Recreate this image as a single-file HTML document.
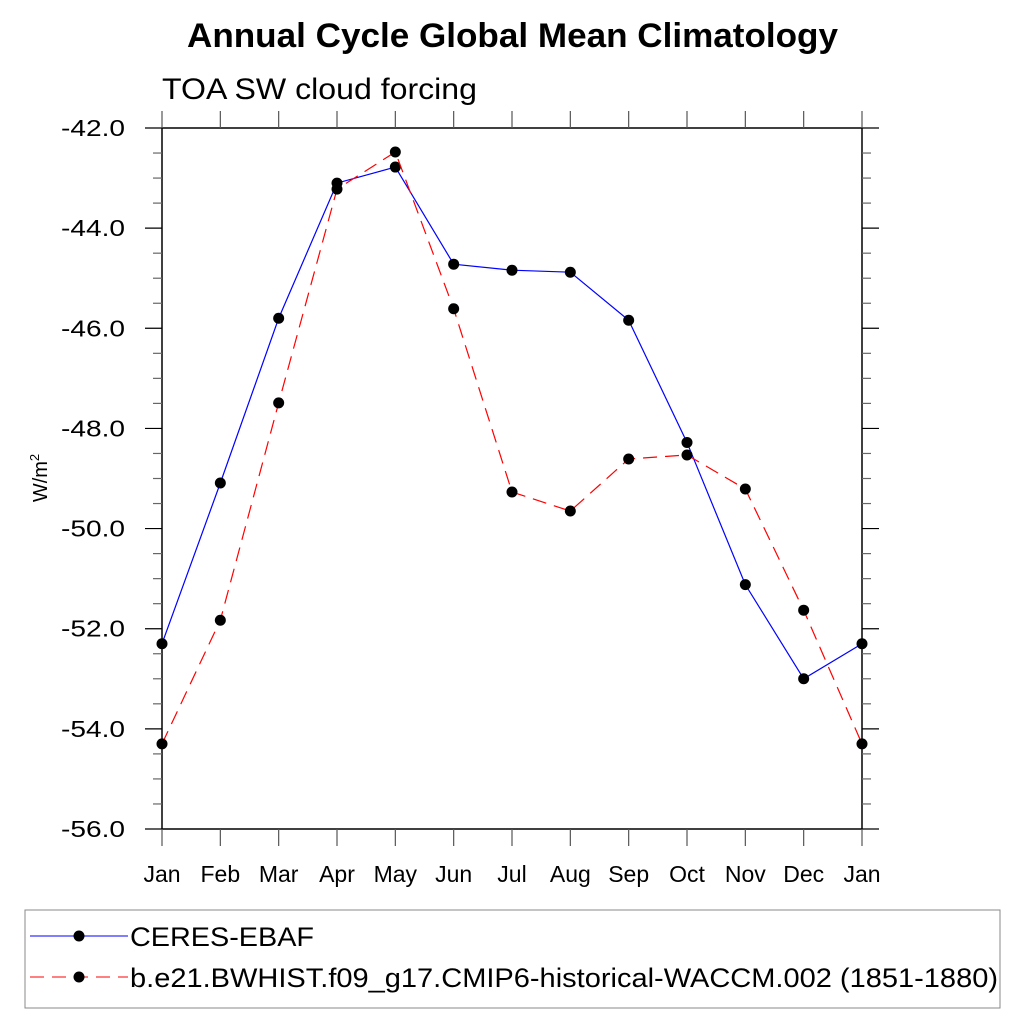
<!DOCTYPE html>
<html><head><meta charset="utf-8"><style>
body{margin:0;background:#fff;}
svg text{font-family:"Liberation Sans",sans-serif;}
</style></head><body>
<svg width="1024" height="1024" viewBox="0 0 1024 1024">
<text x="187" y="47" font-size="34" font-weight="bold" textLength="651" lengthAdjust="spacingAndGlyphs">Annual Cycle Global Mean Climatology</text>
<text x="162" y="99" font-size="30" textLength="315" lengthAdjust="spacingAndGlyphs">TOA SW cloud forcing</text>
<text transform="translate(47,478) rotate(-90)" text-anchor="middle" font-size="20">W/m<tspan dy="-8" font-size="13">2</tspan></text>
<g id="axes"></g>
<g id="series"></g>
<rect x="25" y="910" width="975" height="98" fill="none" stroke="#888" stroke-width="1"/>
<g>
<line x1="30" y1="936" x2="128" y2="936" stroke="#0000ff" stroke-width="1"/>
<circle cx="79" cy="936" r="5.5" fill="#000"/>
<text x="130" y="946" font-size="27" textLength="184" lengthAdjust="spacingAndGlyphs">CERES-EBAF</text>
</g>
<g>
<line x1="30" y1="977" x2="128" y2="977" stroke="#ff0000" stroke-width="1" stroke-dasharray="14,8"/>
<circle cx="79" cy="977" r="5.5" fill="#000"/>
<text x="130" y="987" font-size="27" textLength="868" lengthAdjust="spacingAndGlyphs">b.e21.BWHIST.f09_g17.CMIP6-historical-WACCM.002 (1851-1880)</text>
</g>
</svg>
<script>
const months=["Jan","Feb","Mar","Apr","May","Jun","Jul","Aug","Sep","Oct","Nov","Dec","Jan"];
const ceres=[-52.3,-49.09,-45.8,-43.1,-42.78,-44.72,-44.84,-44.88,-45.84,-48.28,-51.12,-53.0,-52.3];
const model=[-54.3,-51.83,-47.49,-43.22,-42.48,-45.61,-49.27,-49.65,-48.61,-48.53,-49.21,-51.63,-54.3];
const yTicks=[-42,-44,-46,-48,-50,-52,-54,-56];
const yLabels=["-42.0","-44.0","-46.0","-48.0","-50.0","-52.0","-54.0","-56.0"];
const NS="http://www.w3.org/2000/svg";
const L=162,R=862,T=128,B=829,ymax=-42,ymin=-56;
function xs(i){return L+(R-L)*i/(months.length-1);}
function ys(v){return T+(ymax-v)/(ymax-ymin)*(B-T);}
function mk(tag,attrs,parent){const e=document.createElementNS(NS,tag);for(const k in attrs)e.setAttribute(k,attrs[k]);parent.appendChild(e);return e;}
const ax=document.getElementById('axes');
const frame=mk('rect',{x:L,y:T,width:R-L,height:B-T,fill:'none',stroke:'#000','stroke-width':1.5},ax);


for(let v=ymax;v>=ymin-0.001;v-=0.5){
  const y=ys(v);const major=Math.abs(v/2-Math.round(v/2))<0.01;const len=major?17:9;
  mk('line',{x1:L-len,y1:y,x2:L,y2:y,stroke:major?'#000':'#666','stroke-width':1.2},ax);
  mk('line',{x1:R,y1:y,x2:R+len,y2:y,stroke:major?'#000':'#666','stroke-width':1.2},ax);
}
yTicks.forEach((v,i)=>{const t=mk('text',{x:L-37,y:ys(v)+8,'text-anchor':'end','font-size':23,textLength:64,lengthAdjust:'spacingAndGlyphs'},ax);t.textContent=yLabels[i];

});
months.forEach((m,i)=>{const x=xs(i);
  mk('line',{x1:x,y1:B,x2:x,y2:B+17,stroke:'#555','stroke-width':1.2},ax);
  mk('line',{x1:x,y1:T-17,x2:x,y2:T,stroke:'#555','stroke-width':1.2},ax);
  const t=mk('text',{x:x,y:882,'text-anchor':'middle','font-size':23},ax);t.textContent=m;
  
  });
const sg=document.getElementById('series');
function series(vals,color,dash,name){
  const g=mk('g',{},sg);
  
  
  const pts=vals.map((v,i)=>xs(i)+','+ys(v)).join(' ');
  const a={points:pts,fill:'none',stroke:color,'stroke-width':1.2};if(dash)a['stroke-dasharray']=dash;
  mk('polyline',a,g);
  vals.forEach((v,i)=>{const c=mk('circle',{cx:xs(i),cy:ys(v),r:5.5,fill:'#000'},g);
  
  });
}
series(ceres,'#0000ff',null,'ceres-series');
series(model,'#ff0000','14,8','model-series');
</script>
</body></html>
